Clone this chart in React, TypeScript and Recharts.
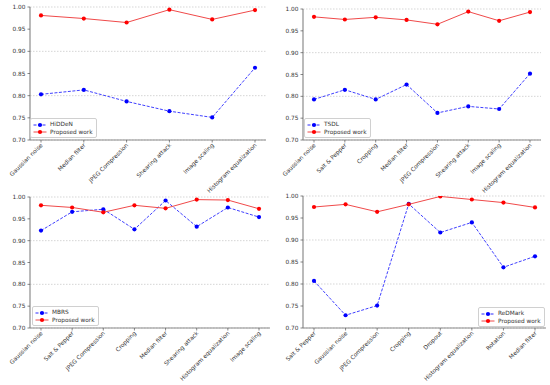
import React from 'react';
import { LineChart, Line, XAxis, YAxis, CartesianGrid, Legend } from 'recharts';

// top-left: HiDDeN comparison
const hiddenCats = ['Gaussian noise', 'Median filter', 'JPEG Compression', 'Shearing attack', 'Image scaling', 'Histogram equalization'];
const hiddenVals = [0.803, 0.813, 0.787, 0.765, 0.751, 0.863];
const hiddenOurs = [0.981, 0.974, 0.965, 0.994, 0.972, 0.993];

// top-right: TSDL comparison
const tsdlCats = ['Gaussian noise', 'Salt & Pepper', 'Cropping', 'Median filter', 'JPEG Compression', 'Shearing attack', 'Image scaling', 'Histogram equalization'];
const tsdlVals = [0.793, 0.815, 0.793, 0.827, 0.762, 0.777, 0.771, 0.852];
const tsdlOurs = [0.982, 0.976, 0.981, 0.975, 0.965, 0.994, 0.973, 0.993];

// bottom-left: MBRS comparison
const mbrsCats = ['Gaussian noise', 'Salt & Pepper', 'JPEG Compression', 'Cropping', 'Median filter', 'Shearing attack', 'Histogram equalization', 'Image scaling'];
const mbrsVals = [0.923, 0.966, 0.972, 0.926, 0.992, 0.932, 0.976, 0.954];
const mbrsOurs = [0.981, 0.976, 0.965, 0.981, 0.974, 0.994, 0.993, 0.973];

// bottom-right: ReDMark comparison
const redmarkCats = ['Salt & Pepper', 'Gaussian noise', 'JPEG Compression', 'Cropping', 'Dropout', 'Histogram equalization', 'Rotation', 'Median filter'];
const redmarkVals = [0.807, 0.729, 0.751, 0.982, 0.917, 0.940, 0.838, 0.863];
const redmarkOurs = [0.975, 0.981, 0.964, 0.981, 0.999, 0.992, 0.985, 0.974];

const yTicks = [0.7, 0.75, 0.8, 0.85, 0.9, 0.95, 1.0];

const FONT = 'DejaVu Sans, sans-serif';
const TXT = '#333';
const FRAME = '#8c8c8c';
const FS = 5.8;

function SlantTick(props: any) {
  const { x, y, payload } = props;
  return (
    <g transform={`translate(${x},${y + 1})`}>
      <text x={0} y={0} dy={3} textAnchor="end" transform="rotate(-45)" fontSize={FS} fill={TXT} fontFamily={FONT}>
        {payload.value}
      </text>
    </g>
  );
}

function LegendBox(props: any) {
  const items = [...(props.payload || [])].sort((a: any, b: any) => (a.dataKey === 'base' ? -1 : b.dataKey === 'base' ? 1 : 0));
  return (
    <div style={{ border: '0.8px solid #d0d0d0', borderRadius: 2, background: 'rgba(255,255,255,0.85)', padding: '2px 3px 1px 2px', fontFamily: FONT, fontSize: FS, color: TXT, lineHeight: '7px' }}>
      {items.map((e: any) => {
        const isBase = e.dataKey === 'base';
        return (
          <div key={e.value} style={{ display: 'flex', alignItems: 'center', height: 7.5 }}>
            <svg width={14} height={6} style={{ marginRight: 3 }}>
              <line x1={0.5} y1={3} x2={13.5} y2={3} stroke={isBase ? '#2a2aff' : '#f04a4a'} strokeWidth={1} strokeDasharray={isBase ? '3 1.5' : undefined} />
              <circle cx={7} cy={3} r={2.1} fill={isBase ? '#0000ff' : '#ff0000'} />
            </svg>
            <span>{e.value}</span>
          </div>
        );
      })}
    </div>
  );
}

type PanelProps = {
  left: number; top: number; width: number; height: number;
  cats: string[]; base: number[]; ours: number[]; baseName: string;
  margin: { top: number; right: number; left: number; bottom: number };
  yWidth: number; xHeight: number; legendPos: { left: number; top: number };
};

function Panel(p: PanelProps) {
  const rows = p.cats.map((c, i) => ({ cat: c, base: p.base[i], ours: p.ours[i] }));
  const plotW = p.width - p.margin.left - p.margin.right - p.yWidth;
  const pad = Math.round(plotW / ((p.cats.length - 1) * 1.1) * (p.cats.length - 1) * 0.05);
  return (
    <div style={{ position: 'absolute', left: p.left, top: p.top }}>
      <LineChart width={p.width} height={p.height} data={rows} margin={p.margin}>
        <CartesianGrid vertical={false} stroke="#c4c4c4" strokeDasharray="1.5 1.5" strokeWidth={0.7} />
        <XAxis dataKey="cat" interval={0} height={p.xHeight} tick={<SlantTick />} tickSize={2.5} tickMargin={0}
          padding={{ left: pad, right: pad }} axisLine={{ stroke: FRAME, strokeWidth: 1.2 }} tickLine={{ stroke: '#555', strokeWidth: 0.7 }} />
        <XAxis xAxisId="t" dataKey="cat" orientation="top" height={0} tick={false} tickLine={false} axisLine={{ stroke: FRAME, strokeWidth: 1.2 }} />
        <YAxis domain={[0.7, 1.0]} ticks={yTicks} width={p.yWidth} tickSize={2.5} tickMargin={2}
          tickFormatter={(v: number) => v.toFixed(2)} tick={{ fontSize: FS, fill: TXT, fontFamily: FONT }}
          axisLine={{ stroke: FRAME, strokeWidth: 1.2 }} tickLine={{ stroke: '#555', strokeWidth: 0.7 }} allowDataOverflow />
        <YAxis yAxisId="r" orientation="right" width={0} tick={false} tickLine={false} axisLine={{ stroke: FRAME, strokeWidth: 1.2 }} />
        <Legend layout="vertical" verticalAlign="middle" align="center" content={<LegendBox />}
          wrapperStyle={{ left: p.legendPos.left, top: p.legendPos.top, width: 'auto', height: 'auto' }} />
        <Line dataKey="base" name={p.baseName} stroke="#2a2aff" strokeWidth={0.9} strokeDasharray="3 1.5"
          dot={{ r: 2.1, fill: '#0000ff', stroke: 'none' }} isAnimationActive={false} />
        <Line dataKey="ours" name="Proposed work" stroke="#f04a4a" strokeWidth={1}
          dot={{ r: 2.1, fill: '#ff0000', stroke: 'none' }} isAnimationActive={false} />
      </LineChart>
    </div>
  );
}

export default function App() {
  return (
    <div style={{ position: 'absolute', left: 0, top: 0, width: 550, height: 385, background: '#fff', overflow: 'hidden' }}>
      <Panel left={0} top={0} width={275} height={198} cats={hiddenCats} base={hiddenVals} ours={hiddenOurs} baseName="HiDDeN"
        margin={{ top: 7, right: 9, left: 2, bottom: 0 }} yWidth={28} xHeight={58} legendPos={{ left: 30, top: 118 }} />
      <Panel left={275} top={0} width={275} height={198} cats={tsdlCats} base={tsdlVals} ours={tsdlOurs} baseName="TSDL"
        margin={{ top: 9, right: 9, left: 2, bottom: 0 }} yWidth={26} xHeight={58} legendPos={{ left: 29, top: 118 }} />
      <Panel left={0} top={190} width={275} height={195} cats={mbrsCats} base={mbrsVals} ours={mbrsOurs} baseName="MBRS"
        margin={{ top: 7, right: 5, left: 2, bottom: 0 }} yWidth={28} xHeight={57} legendPos={{ left: 32, top: 116 }} />
      <Panel left={275} top={190} width={275} height={195} cats={redmarkCats} base={redmarkVals} ours={redmarkOurs} baseName="ReDMark"
        margin={{ top: 6, right: 4, left: 2, bottom: 0 }} yWidth={26} xHeight={57} legendPos={{ left: 203, top: 117 }} />
    </div>
  );
}
